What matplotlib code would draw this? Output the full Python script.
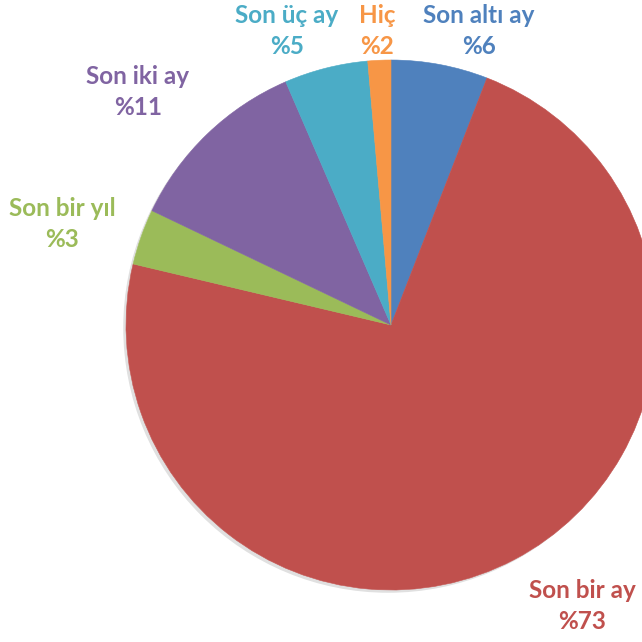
import matplotlib
matplotlib.use('Agg')
import matplotlib.pyplot as plt
import matplotlib.patheffects as pe
from matplotlib.patches import Circle

labels = ['Son altı ay', 'Son bir ay', 'Son bir yıl', 'Son iki ay', 'Son üç ay', 'Hiç']
values = [5.9, 72.8, 3.4, 11.4, 5.1, 1.4]
pct_labels = ['%6', '%73', '%3', '%11', '%5', '%2']
colors = ['#4F81BD', '#C0504D', '#9BBB59', '#8064A2', '#4BACC6', '#F79646']

W = H = 642
cx, cy, r = 391, 325, 265  # pie centre / radius in pixels

fig = plt.figure(figsize=(W / 100, H / 100), dpi=100)
ax = fig.add_axes([0, 0, 1, 1])

# soft shadow behind the whole pie
shadow = Circle((0, 0), 1, facecolor='white', edgecolor='none', zorder=0)
shadow.set_path_effects([pe.SimplePatchShadow(offset=(-2, -2), shadow_rgbFace='k', alpha=0.12),
                         pe.Normal()])
ax.add_patch(shadow)

wedges, _ = ax.pie(values, colors=colors, startangle=90, counterclock=False,
                   radius=1, center=(0, 0))
for w in wedges:
    w.set_edgecolor(w.get_facecolor())
    w.set_linewidth(0.4)

ax.set_xlim(-cx / r, (W - cx) / r)
ax.set_ylim(-(H - cy) / r, cy / r)
ax.set_aspect('equal')
ax.axis('off')

# label centres in pixels (Excel best-fit placement)
label_px = [(479, 31), (582, 606), (62, 224), (138, 92), (287, 31), (377, 31)]
for lab, pct, col, (px, py) in zip(labels, pct_labels, colors, label_px):
    ax.text((px - cx) / r, (cy - py) / r, lab + '\n' + pct, color=col,
            fontsize=17.5, fontweight='bold', family=['Lato', 'DejaVu Sans'],
            ha='center', va='center', linespacing=1.45)

fig.savefig('out.png', dpi=100)
